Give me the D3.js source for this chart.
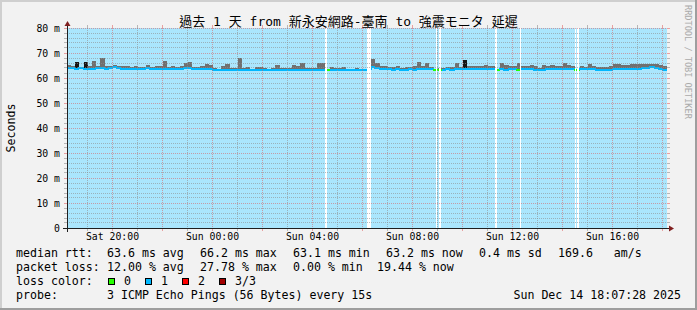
<!DOCTYPE html>
<html>
<head>
<meta charset="utf-8">
<title>SmokePing latency</title>
<style>
  body { margin: 0; background: #fff; }
  text { font-family: "DejaVu Sans Mono", "Noto Sans CJK TC", monospace; white-space: pre; }
</style>
</head>
<body>
<script src="https://cdnjs.cloudflare.com/ajax/libs/d3/7.9.0/d3.min.js"></script>
<script>
const width = 697, height = 310;
const plot = {left: 67, right: 667, top: 28, bottom: 228};

// 10 minute slots, starting Sat Dec 13 18:10
const startTime = "2025-12-13 18:10";
const endTime = "2025-12-14 18:10";
const stepMinutes = 10;

// median rtt (ms), one row per hour
const median = [
  64.0, 64.0, 63.8, 63.9, 63.7, 63.8,
  63.8, 63.9, 63.9, 63.7, 63.9, 64.3,
  64.1, 63.8, 63.6, 63.7, 63.8, 63.7,
  63.8, 63.9, 63.6, 63.7, 63.6, 63.7,
  63.6, 63.5, 63.6, 63.7, 63.9, 64.2,
  63.8, 63.6, 63.5, 63.5, 63.5, 63.4,
  63.3, 63.2, 63.2, 63.3, 63.2, 63.2,
  63.2, 63.3, 63.2, 63.2, 63.3, 63.2,
  63.2, 63.2, 63.3, 63.2, 63.2, 63.3,
  63.3, 63.3, 63.2, 63.2, 63.3, 63.3,
  63.4, 63.4, 63.2, 63.2, 63.2, 63.3,
  63.2, 63.3, 63.2, 63.2, 63.3, 63.2,
  63.2, 64.6, 64.0, 63.6, 63.5, 63.5,
  63.4, 63.5, 63.4, 63.3, 63.5, 63.4,
  63.5, 63.6, 63.5, 63.6, 63.3, 63.3,
  63.4, 63.5, 63.4, 63.5, 63.6, 63.7,
  63.6, 63.5, 63.5, 63.6, 63.7, 63.6,
  63.5, 63.3, 63.5, 63.4, 63.5, 63.5,
  63.3, 63.5, 63.5, 63.6, 63.2, 63.1,
  63.3, 63.5, 63.5, 63.6, 63.5, 63.6,
  63.5, 63.6, 63.3, 63.5, 63.5, 63.6,
  63.5, 63.3, 63.2, 63.4, 63.3, 63.5,
  63.6, 63.5, 63.6, 63.6, 63.7, 63.8,
  63.9, 64.0, 64.5, 64.2, 63.6, 63.3
];

// highest ping of each slot (top of the smoke, ms)
const smokeHi = [
  65.2, 65.0, 66.5, 64.6, 66.5, 65.0,
  66.8, 65.0, 67.9, 65.0, 64.8, 65.2,
  64.8, 64.7, 65.0, 64.5, 64.7, 64.5,
  64.5, 65.2, 64.6, 64.8, 65.0, 67.0,
  64.5, 64.8, 64.6, 65.0, 66.2, 66.5,
  64.6, 64.5, 64.7, 65.5, 65.3, 64.2,
  63.8, 65.0, 65.6, 64.0, 64.2, 67.9,
  64.0, 64.5, 63.8, 64.5, 64.3, 63.9,
  63.8, 64.0, 65.1, 64.0, 63.9, 64.0,
  65.1, 64.8, 66.1, 63.9, 64.0, 64.2,
  65.9, 65.9, 63.6, 64.3, 64.0, 64.2,
  64.3, 63.8, 63.8, 64.0, 63.7, 63.8,
  63.6, 67.6, 66.0, 64.8, 64.7, 64.6,
  64.6, 64.7, 64.2, 64.3, 64.5, 64.8,
  66.5, 65.0, 65.9, 64.5, 63.8, 64.0,
  64.2, 64.3, 64.4, 65.9, 64.5, 67.2,
  65.0, 64.8, 65.0, 65.0, 65.2, 64.8,
  65.0, 63.8, 65.9, 65.3, 65.0, 65.0,
  66.1, 65.0, 64.8, 65.2, 64.8, 64.2,
  65.2, 64.8, 65.3, 65.0, 64.8, 66.1,
  65.3, 64.7, 63.8, 65.0, 64.6, 65.7,
  64.8, 64.5, 64.5, 64.6, 64.9, 65.5,
  65.5, 65.3, 65.2, 65.4, 65.5, 65.7,
  65.8, 65.7, 65.8, 65.5, 65.2, 65.0
];

// slots where no ping was lost (everything else lost 1 of 3)
const zeroLoss = ["2025-12-14 04:30", "2025-12-14 06:10", "2025-12-14 08:50", "2025-12-14 09:00",
                  "2025-12-14 11:20", "2025-12-14 12:10", "2025-12-14 14:30"];
// slots with the dark smoke
const darkSmoke = ["2025-12-13 18:30", "2025-12-13 18:50", "2025-12-14 10:00"];
// missing data
const gaps = [
  ["2025-12-14 04:30", "2025-12-14 04:34"],
  ["2025-12-14 06:10", "2025-12-14 06:19"],
  ["2025-12-14 08:55", "2025-12-14 08:58"],
  ["2025-12-14 09:03", "2025-12-14 09:07"],
  ["2025-12-14 11:17", "2025-12-14 11:21"],
  ["2025-12-14 12:17", "2025-12-14 12:19"],
  ["2025-12-14 14:29", "2025-12-14 14:32"],
  ["2025-12-14 14:34", "2025-12-14 14:38"]
];

const yTicks = [0, 10, 20, 30, 40, 50, 60, 70, 80];
const lossColors = ["#26ff00", "#00b8ff", "#ff0000", "#a10000"];
const lossLabels = ["0", "1", "2", "3/3"];

const title = "過去 1 天 from 新永安網路-臺南 to 強震モニタ 延遲";
const legendRtt = [["median rtt:", 16], ["63.6 ms avg", 107], ["66.2 ms max", 200], ["63.1 ms min", 293],
                   ["63.2 ms now", 386], ["0.4 ms sd", 479], ["169.6   am/s", 558]];
const legendLoss = [["packet loss:", 16], ["12.00 % avg", 107], ["27.78 % max", 200], ["0.00 % min", 293],
                    ["19.44 % now", 377]];
const probeText = "3 ICMP Echo Pings (56 Bytes) every 15s";
const stampText = "Sun Dec 14 18:07:28 2025";

const parse = d3.timeParse("%Y-%m-%d %H:%M");
const t0 = parse(startTime);
const data = median.map((m, i) => ({
  t: d3.timeMinute.offset(t0, i * stepMinutes),
  t1: d3.timeMinute.offset(t0, (i + 1) * stepMinutes),
  median: m,
  hi: smokeHi[i]
}));
const zeroSet = new Set(zeroLoss.map(s => +parse(s)));
const darkSet = new Set(darkSmoke.map(s => +parse(s)));
data.forEach(d => {
  d.loss = zeroSet.has(+d.t) ? 0 : 1;
  d.dark = darkSet.has(+d.t);
});

const x = d3.scaleTime().domain([t0, parse(endTime)]).range([plot.left, plot.right]);
const y = d3.scaleLinear().domain([0, 80]).range([plot.bottom, plot.top]);

const svg = d3.select("body").append("svg")
  .attr("width", width).attr("height", height)
  .attr("viewBox", `0 0 ${width} ${height}`);

// background and frame
svg.append("rect").attr("width", width).attr("height", height).attr("fill", "#f2f2f2");
svg.append("path").attr("d", `M0,0H${width}V2H2V${height}H0Z`).attr("fill", "#cfcfcf");
svg.append("path").attr("d", `M${width},${height}H0V${height - 2}H${width - 2}V0H${width}Z`).attr("fill", "#9e9e9e");

// canvas with loss background
svg.append("rect")
  .attr("x", plot.left).attr("y", plot.top)
  .attr("width", plot.right - plot.left).attr("height", plot.bottom - plot.top)
  .attr("fill", "#aae6fd");

// smoke
svg.append("g").attr("shape-rendering", "crispEdges")
  .selectAll("rect").data(data).join("rect")
  .attr("x", d => Math.round(x(d.t)))
  .attr("width", d => Math.round(x(d.t1)) - Math.round(x(d.t)))
  .attr("y", d => Math.round(y(d.hi)))
  .attr("height", d => Math.max(0, Math.round(y(d.median)) - Math.round(y(d.hi))))
  .attr("fill", d => d.dark ? "#151515" : "#707070");

// median line coloured by loss
svg.append("g").attr("fill", "none").attr("stroke-width", 2)
  .selectAll("path").data(data).join("path")
  .attr("d", (d, i) => {
    const yy = Math.round(y(d.median));
    const yp = i > 0 ? Math.round(y(data[i - 1].median)) : yy;
    return `M${Math.round(x(d.t))},${yp}V${yy}H${Math.round(x(d.t1))}`;
  })
  .attr("stroke", d => lossColors[d.loss]);

// missing data
svg.append("g").attr("shape-rendering", "crispEdges")
  .selectAll("rect").data(gaps).join("rect")
  .attr("x", d => Math.round(x(parse(d[0]))))
  .attr("width", d => Math.max(1, Math.round(x(parse(d[1]))) - Math.round(x(parse(d[0])))))
  .attr("y", plot.top).attr("height", plot.bottom - plot.top)
  .attr("fill", "#ffffff");

// grid
const grid = svg.append("g").attr("shape-rendering", "crispEdges").attr("stroke-width", 1);
const minorY = d3.range(2, 80, 2).filter(v => v % 10 !== 0);
const hours = x.ticks(d3.timeHour.every(1));
const majorX = x.ticks(d3.timeHour.every(2)).map(Number);
const minorX = hours.filter(t => !majorX.includes(+t));
const minorColor = "rgba(143,143,143,0.6)";
const majorColor = "rgba(222,79,79,0.5)";

function hLine(v, color) {
  const yy = Math.floor(y(v)) + 0.5;
  grid.append("line").attr("x1", plot.left - 3).attr("x2", plot.left).attr("y1", yy).attr("y2", yy).attr("stroke", color);
  grid.append("line").attr("x1", plot.right).attr("x2", plot.right + 3).attr("y1", yy).attr("y2", yy).attr("stroke", color);
  grid.append("line").attr("x1", plot.left).attr("x2", plot.right).attr("y1", yy).attr("y2", yy)
    .attr("stroke", color).attr("stroke-dasharray", "1,1");
}
function vLine(t, color) {
  const xx = Math.floor(x(t)) + 0.5;
  grid.append("line").attr("y1", plot.top - 3).attr("y2", plot.top).attr("x1", xx).attr("x2", xx).attr("stroke", color);
  grid.append("line").attr("y1", plot.bottom).attr("y2", plot.bottom + 3).attr("x1", xx).attr("x2", xx).attr("stroke", color);
  grid.append("line").attr("y1", plot.top).attr("y2", plot.bottom).attr("x1", xx).attr("x2", xx)
    .attr("stroke", color).attr("stroke-dasharray", "1,1");
}
minorY.forEach(v => hLine(v, minorColor));
minorX.forEach(t => vLine(t, minorColor));
yTicks.filter(v => v > 0).forEach(v => hLine(v, majorColor));
majorX.forEach(t => vLine(new Date(t), majorColor));

// axes lines and arrows
svg.append("line").attr("x1", plot.left - 4).attr("x2", plot.right + 3)
  .attr("y1", plot.bottom + 0.5).attr("y2", plot.bottom + 0.5).attr("stroke", "#1f1f1f").attr("shape-rendering", "crispEdges");
svg.append("line").attr("x1", plot.left + 0.5).attr("x2", plot.left + 0.5)
  .attr("y1", plot.bottom + 4).attr("y2", plot.top - 3).attr("stroke", "#1f1f1f").attr("shape-rendering", "crispEdges");
svg.append("path").attr("d", `M${plot.right + 2},${plot.bottom - 2.5}L${plot.right + 7},${plot.bottom + 0.5}L${plot.right + 2},${plot.bottom + 3.5}Z`)
  .attr("fill", "#801f1f");
svg.append("path").attr("d", `M${plot.left - 2.5},${plot.top - 2}L${plot.left + 0.5},${plot.top - 7}L${plot.left + 3.5},${plot.top - 2}Z`)
  .attr("fill", "#801f1f");

// axis labels
const yAxis = svg.append("g")
  .attr("transform", `translate(${plot.left},0)`)
  .call(d3.axisLeft(y).tickValues(yTicks).tickSize(0).tickPadding(7)
    .tickFormat(d => d === 0 ? "0" : d + " m"));
const xAxis = svg.append("g")
  .attr("transform", `translate(0,${plot.bottom})`)
  .call(d3.axisBottom(x).ticks(d3.timeHour.every(4)).tickSize(0).tickPadding(5)
    .tickFormat(d3.timeFormat("%a %H:%M")));
[yAxis, xAxis].forEach(a => {
  a.select(".domain").remove();
  a.selectAll("text").attr("font-family", null).attr("font-size", "9.8px").attr("fill", "#000");
});
xAxis.selectAll(".tick").attr("transform", d => `translate(${Math.floor(x(d)) + 0.5},0)`);

// title, unit label, watermark
svg.append("text").attr("x", width / 2).attr("y", 26).attr("text-anchor", "middle")
  .attr("font-size", "13px").attr("fill", "#000").text(title);
svg.append("text").attr("transform", "translate(15,128) rotate(-90)").attr("text-anchor", "middle")
  .attr("font-size", "11.6px").attr("fill", "#000").text("Seconds");
svg.append("text").attr("transform", "translate(685,5) rotate(90)")
  .attr("font-size", "8.6px").attr("fill", "#aaaaaa").text("RRDTOOL / TOBI OETIKER");

// legend
const legend = svg.append("g").attr("font-size", "11.6px").attr("fill", "#000");
const addText = (s, px, py) => legend.append("text")
  .attr("xml:space", "preserve").attr("x", px).attr("y", py).text(s);
legendRtt.forEach(([s, px]) => addText(s, px, 257));
legendLoss.forEach(([s, px]) => addText(s, px, 271));
addText("loss color:", 16, 285);
lossColors.forEach((c, i) => {
  const bx = 108.5 + i * 37;
  legend.append("rect").attr("x", bx).attr("y", 278.5).attr("width", 6).attr("height", 6)
    .attr("fill", c).attr("stroke", "#000").attr("stroke-width", 1);
  addText(lossLabels[i], bx + 15.5, 285);
});
addText("probe:", 16, 299);
addText(probeText, 107, 299);
addText(stampText, 681, 299).attr("text-anchor", "end");
</script>
</body>
</html>
